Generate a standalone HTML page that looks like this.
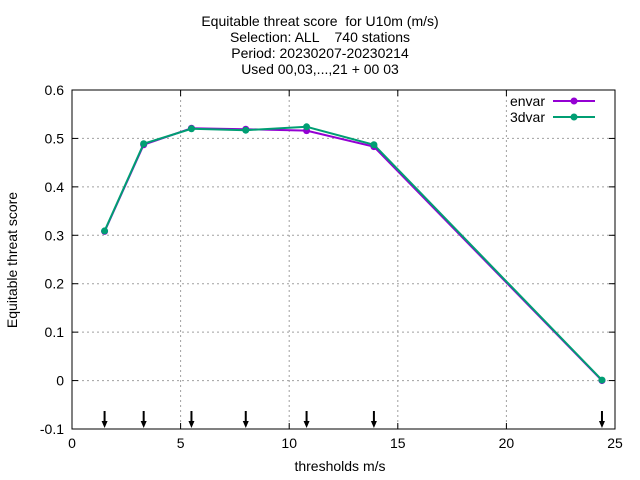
<!DOCTYPE html>
<html><head><meta charset="utf-8"><style>
body{margin:0;background:#fff}
svg{display:block;font-family:"Liberation Sans",sans-serif}
.pre text{white-space:pre}
</style></head><body>
<svg id="c" width="640" height="480">
<g class="pre" font-size="14" text-anchor="middle" fill="#000">
<text x="320" y="26" xml:space="preserve">Equitable threat score  for U10m (m/s)</text>
<text x="320" y="42" xml:space="preserve">Selection: ALL    740 stations</text>
<text x="320" y="58">Period: 20230207-20230214</text>
<text x="320" y="74">Used 00,03,...,21 + 00 03</text>
</g>
<g id="grid"></g>
<g id="axes"></g>
<g id="arrows"></g>
<g id="series"></g>
<text x="340" y="471" font-size="14" text-anchor="middle">thresholds m/s</text>
<text transform="translate(17,260) rotate(-90)" font-size="14" text-anchor="middle">Equitable threat score</text>
<g font-size="14">
<text x="545" y="106" text-anchor="end">envar</text>
<line x1="553" y1="101" x2="595" y2="101" stroke="#9400d3" stroke-width="2"/>
<circle cx="574" cy="101" r="3.5" fill="#9400d3"/>
<text x="545" y="122" text-anchor="end">3dvar</text>
<line x1="553" y1="117" x2="595" y2="117" stroke="#009e73" stroke-width="2"/>
<circle cx="574" cy="117" r="3.5" fill="#009e73"/>
</g>
</svg>
<script>
const thresholds=[1.5,3.3,5.5,8,10.8,13.9,24.4];
const envar=[0.308,0.487,0.521,0.519,0.516,0.483,0.0];
const var3d=[0.309,0.489,0.520,0.517,0.524,0.487,0.001];
const xTicks=[0,5,10,15,20,25];
const yTicks=[-0.1,0,0.1,0.2,0.3,0.4,0.5,0.6];
const yLabels=["-0.1","0","0.1","0.2","0.3","0.4","0.5","0.6"];
const NS="http://www.w3.org/2000/svg";
const L=72,R=615,T=90,B=429;
const X=v=>L+(v-0)/(25-0)*(R-L);
const Y=v=>B-(v+0.1)/0.7*(B-T);
function mk(p,tag,a){const e=document.createElementNS(NS,tag);for(const k in a)e.setAttribute(k,a[k]);p.appendChild(e);return e;}
const grid=document.getElementById('grid'),axes=document.getElementById('axes');
xTicks.forEach(t=>{
 const g=mk(grid,'line',{x1:X(t),x2:X(t),y1:T,y2:B,stroke:'#a0a0a0','stroke-dasharray':'2,3'});
 
 
 const k=mk(axes,'line',{x1:X(t),x2:X(t),y1:B,y2:B-6,stroke:'#000'});
 
 
 const k2=mk(axes,'line',{x1:X(t),x2:X(t),y1:T,y2:T+6,stroke:'#000'});
 
 
 const tx=mk(axes,'text',{x:X(t),y:B+19,'font-size':14,'text-anchor':'middle'});tx.textContent=t;
 
 
});
yTicks.forEach((t,i)=>{
 const g=mk(grid,'line',{x1:L,x2:R,y1:Y(t),y2:Y(t),stroke:'#a0a0a0','stroke-dasharray':'2,3'});
 
 
 const k=mk(axes,'line',{x1:L,x2:L+6,y1:Y(t),y2:Y(t),stroke:'#000'});
 
 
 const k2=mk(axes,'line',{x1:R,x2:R-6,y1:Y(t),y2:Y(t),stroke:'#000'});
 
 
 const tx=mk(axes,'text',{x:L-8,y:Y(t)+5,'font-size':14,'text-anchor':'end'});tx.textContent=yLabels[i];
 
 
});
const fr=mk(axes,'rect',{x:L,y:T,width:R-L,height:B-T,fill:'none',stroke:'#000'});


const ar=document.getElementById('arrows');
thresholds.forEach(t=>{
 const x=X(t);
 const l=mk(ar,'line',{x1:x,x2:x,y1:411,y2:422,stroke:'#000','stroke-width':2});
 
 
 const h=mk(ar,'polygon',{points:`${x-3},421 ${x+3},421 ${x},428`,fill:'#000'});
 
 
});
const sg=document.getElementById('series');
[[envar,'#9400d3','envar'],[var3d,'#009e73','3dvar']].forEach(([d,c,n])=>{
 const pts=thresholds.map((t,i)=>X(t)+','+Y(d[i])).join(' ');
 const p=mk(sg,'polyline',{points:pts,fill:'none',stroke:c,'stroke-width':2});
 
 
 thresholds.forEach((t,i)=>{
  const m=mk(sg,'circle',{cx:X(t),cy:Y(d[i]),r:3.5,fill:c});
  
  
 });
});
</script>
</body></html>
